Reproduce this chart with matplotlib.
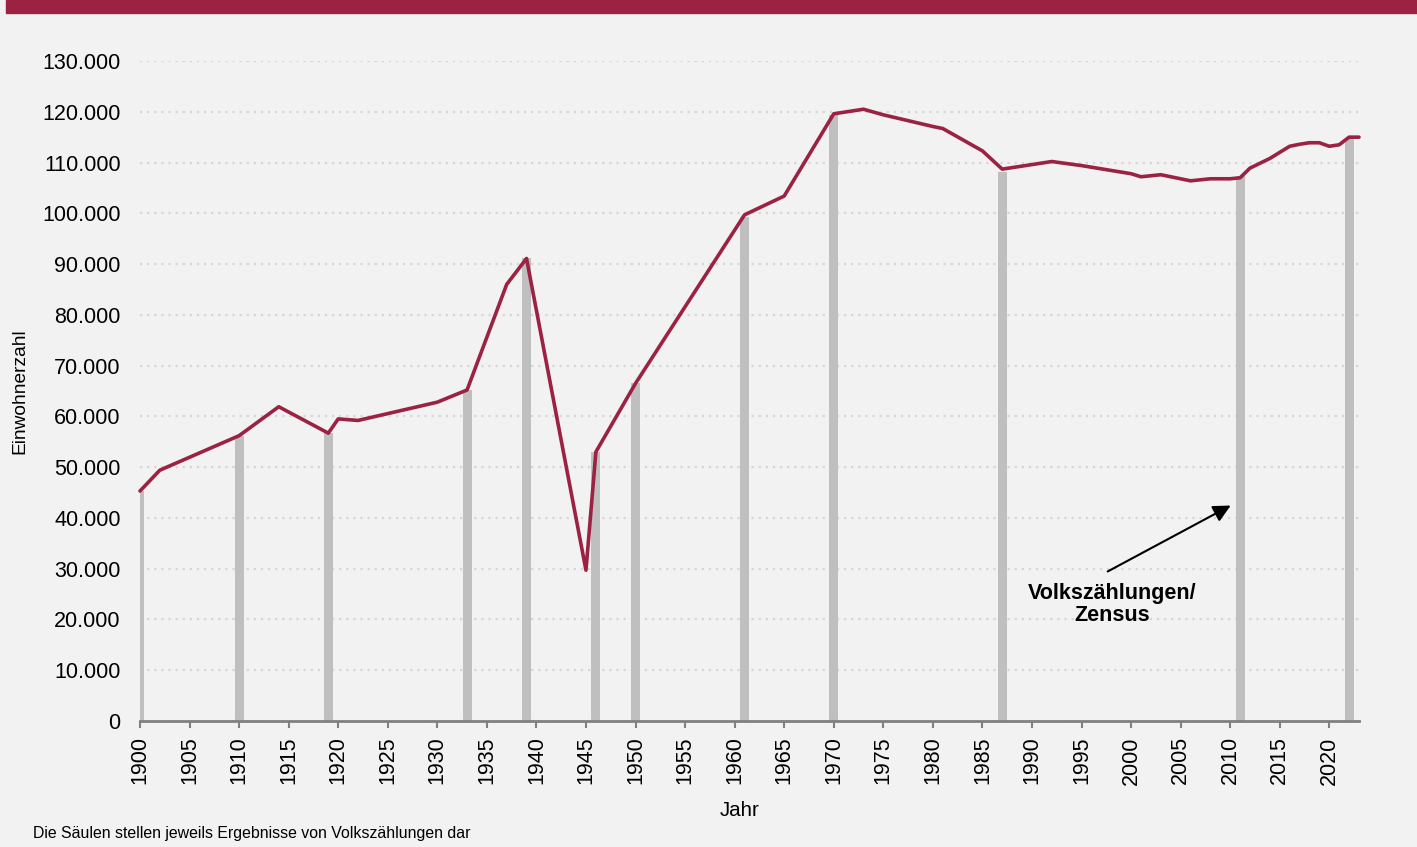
import matplotlib.pyplot as plt
from matplotlib.patches import Rectangle
from matplotlib.ticker import FuncFormatter

plt.rcParams['font.family'] = ['Liberation Sans', 'DejaVu Sans']

# Einwohnerzahl (Fortschreibung)
years = [1900, 1902, 1910, 1914, 1919, 1920, 1922, 1930, 1933, 1937, 1939, 1945,
         1946, 1950, 1961, 1965, 1970, 1973, 1975, 1980, 1981, 1985, 1987, 1992,
         1995, 2000, 2001, 2003, 2006, 2008, 2010, 2011, 2012, 2014, 2016, 2017,
         2018, 2019, 2020, 2021, 2022, 2023]
pop = [45300, 49400, 56200, 61900, 56700, 59500, 59200, 62800, 65200, 86000, 91100, 29700,
       53000, 66500, 99700, 103400, 119600, 120500, 119400, 117100, 116700, 112300, 108700, 110200,
       109400, 107800, 107200, 107600, 106400, 106800, 106800, 107000, 108900, 110800, 113200, 113600,
       113900, 113900, 113200, 113500, 115000, 115000]

# Volkszaehlungen / Zensus
census_years = [1900, 1910, 1919, 1933, 1939, 1946, 1950, 1961, 1970, 1987, 2011, 2022]
census_pop = [45300, 56100, 56700, 65200, 91100, 53000, 66500, 99300, 119400, 108200, 107400, 114800]

xticks = list(range(1900, 2021, 5))
yticks = list(range(0, 130001, 10000))

bg = '#f2f2f2'
red = '#9b2242'

fig = plt.figure(figsize=(14.17, 8.47), dpi=100, facecolor=bg)
fig.patches.append(Rectangle((6/1417, 1-13/847), 1, 13/847, transform=fig.transFigure,
                             color=red, zorder=0))

ax = fig.add_axes([140/1417, 126/847, (1359-140)/1417, (721-61)/847])
ax.set_facecolor(bg)

ax.bar(census_years, census_pop, width=0.9, color='#bfbfbf', zorder=2)
ax.plot(years, pop, color=red, lw=2.6, zorder=3, clip_on=False, solid_capstyle='round')

ax.set_xlim(1900, 2023)
ax.set_ylim(0, 130000)
ax.set_xticks(xticks)
ax.set_yticks(yticks)
ax.yaxis.set_major_formatter(FuncFormatter(lambda v, p: f'{int(v):,}'.replace(',', '.')))
ax.tick_params(axis='x', labelsize=15.5, rotation=90, length=5, width=1.5, color='#808080', pad=6)
ax.tick_params(axis='y', labelsize=15.5, length=0, pad=14)
ax.grid(axis='y', color='#d6d6d6', lw=1.6, linestyle=(0, (1, 2.2)), zorder=1)
ax.set_axisbelow(True)
for s in ['left', 'right', 'top']:
    ax.spines[s].set_visible(False)
ax.spines['bottom'].set_color('#808080')
ax.spines['bottom'].set_linewidth(2)
ax.spines['bottom'].set_zorder(4)

# Hinweis auf Volkszaehlungen
ax.annotate('', xy=(2010.3, 42700), xytext=(1997.4, 29200),
            arrowprops=dict(arrowstyle='-|>', color='black', lw=1.5, mutation_scale=26))
ax.text(1998.1, 22900, 'Volkszählungen/\nZensus', ha='center', va='center',
        fontsize=15.5, fontweight='bold', linespacing=1.05)

fig.text(20/1417, 1-391/847, 'Einwohnerzahl', rotation=90, ha='center', va='center', fontsize=13.8)
fig.text(740/1417, 1-810/847, 'Jahr', ha='center', va='center', fontsize=14.8)
fig.text(33/1417, 1-833/847, 'Die Säulen stellen jeweils Ergebnisse von Volkszählungen dar',
         ha='left', va='center', fontsize=11.4)

fig.savefig('out.png', dpi=100, facecolor=bg)
